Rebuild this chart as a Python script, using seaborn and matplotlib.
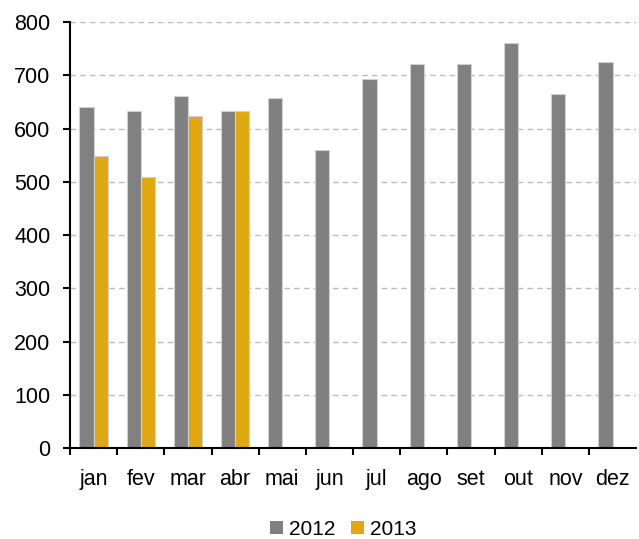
import matplotlib
matplotlib.use("Agg")
import matplotlib.pyplot as plt
import seaborn as sns
import pandas as pd
import numpy as np
from matplotlib.patches import Patch

months = ["jan", "fev", "mar", "abr", "mai", "jun", "jul", "ago", "set", "out", "nov", "dez"]
v2012 = [640, 633, 662, 633, 658, 560, 693, 722, 722, 760, 665, 725]
v2013 = [548, 510, 623, 633, None, None, None, None, None, None, None, None]
years = ["2012", "2013"]
colors = ["#808080", "#E0A810"]

rows = []
for m, a, b in zip(months, v2012, v2013):
    rows.append({"mes": m, "ano": "2012", "valor": a})
    rows.append({"mes": m, "ano": "2013", "valor": np.nan if b is None else b})
df = pd.DataFrame(rows)

sns.set_style("white")
plt.rcParams["font.family"] = ["Liberation Sans", "DejaVu Sans"]
plt.rcParams["text.color"] = "black"
plt.rcParams["xtick.color"] = "black"
plt.rcParams["ytick.color"] = "black"

fig = plt.figure(figsize=(6.39, 5.39), dpi=100)
ax = fig.add_axes([0.1095, 0.1688, 0.886, 0.79])

sns.barplot(data=df, x="mes", y="valor", hue="ano", palette=colors, order=months,
            hue_order=years, width=0.6, ax=ax, legend=False, saturation=1,
            edgecolor="#d0d0d0", linewidth=0.8)

ax.set_ylim(0, 800)
ax.set_xlim(-0.5, 11.5)
ax.set_yticks(range(0, 801, 100))
ax.yaxis.grid(True, linestyle=(0, (4, 3)), color="#bbbbbb", linewidth=1)
ax.set_axisbelow(True)
ax.set_xlabel("")
ax.set_ylabel("")

for s in ["top", "right"]:
    ax.spines[s].set_visible(False)
for s in ["left", "bottom"]:
    ax.spines[s].set_color("black")
    ax.spines[s].set_linewidth(1.5)

# ticks at category boundaries, labels at centers
ax.set_xticks(np.arange(-0.5, 11.5, 1.0))
ax.set_xticklabels([])
ax.set_xticks(np.arange(12), minor=True)
ax.set_xticklabels(months, minor=True, fontsize=15.5)
ax.tick_params(axis="x", which="major", direction="out", length=5, width=1.5, color="black", bottom=True)
ax.tick_params(axis="x", which="minor", length=0, pad=15)
ax.tick_params(axis="y", direction="out", length=5, width=1.5, color="black", left=True, labelsize=15.5, pad=9)

handles = [Patch(facecolor=c, edgecolor="none") for c in colors]
fig.legend(handles, years, loc="center", bbox_to_anchor=(0.537, 0.018), ncol=2,
           frameon=False, fontsize=15, handlelength=0.62, handleheight=0.62,
           handletextpad=0.3, columnspacing=0.75, borderpad=0)

fig.savefig("out.png", dpi=100)
